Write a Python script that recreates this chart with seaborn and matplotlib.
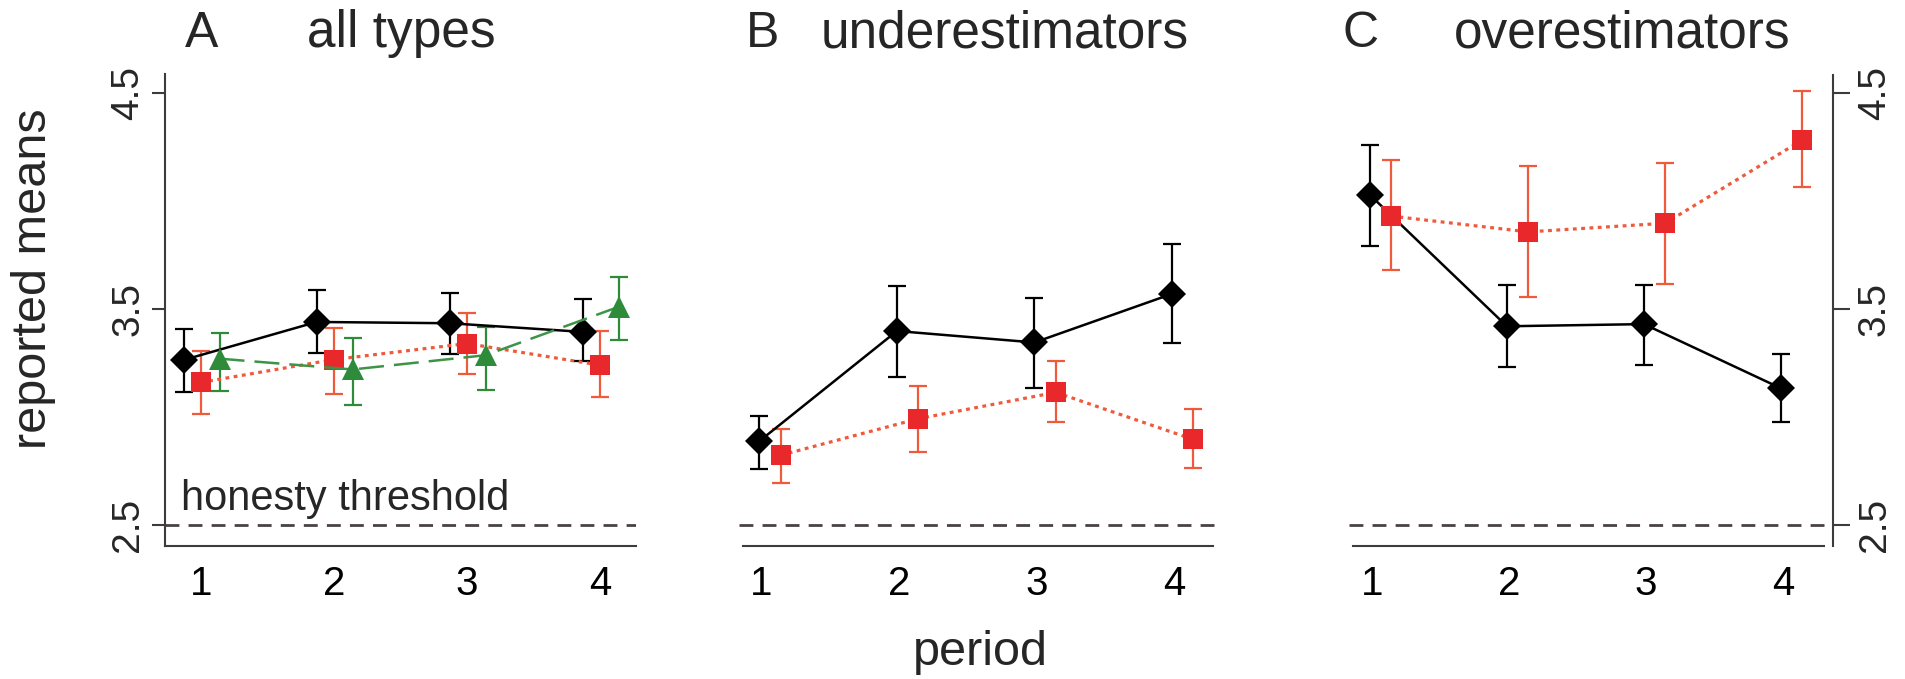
import matplotlib
matplotlib.use("Agg")
import matplotlib.pyplot as plt
import numpy as np
import pandas as pd
import seaborn as sns

# ---------------- data ----------------
periods = [1, 2, 3, 4]
y_ticks = [2.5, 3.5, 4.5]
y_tick_labels = ["2.5", "3.5", "4.5"]
x_tick_labels = ["1", "2", "3", "4"]
honesty_threshold = 2.5

panel_letters = ["A", "B", "C"]
panel_titles = ["all types", "underestimators", "overestimators"]
x_label = "period"
y_label = "reported means"
threshold_label = "honesty threshold"

# Panel A (all types)
a_black_mean = [3.264, 3.440, 3.434, 3.394]
a_black_low = [3.114, 3.296, 3.290, 3.258]
a_black_high = [3.406, 3.586, 3.574, 3.546]
a_red_mean = [3.160, 3.266, 3.340, 3.240]
a_red_low = [3.014, 3.108, 3.200, 3.094]
a_red_high = [3.306, 3.414, 3.480, 3.398]
a_green_mean = [3.270, 3.220, 3.286, 3.510]
a_green_low = [3.118, 3.054, 3.124, 3.356]
a_green_high = [3.390, 3.366, 3.416, 3.646]

# Panel B (underestimators)
b_black_mean = [2.888, 3.398, 3.345, 3.570]
b_black_low = [2.761, 3.187, 3.133, 3.341]
b_black_high = [3.004, 3.606, 3.550, 3.800]
b_red_mean = [2.823, 2.992, 3.114, 2.896]
b_red_low = [2.693, 2.837, 2.976, 2.763]
b_red_high = [2.944, 3.145, 3.257, 3.038]

# Panel C (overestimators)
c_black_mean = [4.028, 3.420, 3.430, 3.133]
c_black_low = [3.791, 3.230, 3.240, 2.976]
c_black_high = [4.257, 3.612, 3.612, 3.290]
c_red_mean = [3.930, 3.857, 3.897, 4.282]
c_red_low = [3.680, 3.554, 3.616, 4.066]
c_red_high = [4.190, 4.163, 4.177, 4.508]

# ---------------- styles ----------------
STYLES = {
    "black": dict(color="black", mfc="black", ecolor="black", marker="D", ms=14.5,
                  ls="-", lw=1.8),
    "red": dict(color="#f05a3c", mfc="#e8282b", ecolor="#ee5a3a", marker="s", ms=15,
                ls=(0, (1.2, 1.4)), lw=2.3),
    "green": dict(color="#3d9446", mfc="#2e8b3a", ecolor="#2e8b3a", marker="^", ms=16,
                  ls=(0, (10, 4)), lw=1.8),
}

panels = [
    [("black", -0.13, a_black_mean, a_black_low, a_black_high),
     ("red", 0.0, a_red_mean, a_red_low, a_red_high),
     ("green", 0.14, a_green_mean, a_green_low, a_green_high)],
    [("black", -0.015, b_black_mean, b_black_low, b_black_high),
     ("red", 0.14, b_red_mean, b_red_low, b_red_high)],
    [("black", -0.015, c_black_mean, c_black_low, c_black_high),
     ("red", 0.14, c_red_mean, c_red_low, c_red_high)],
]

sns.set_style("white")
plt.rcParams["font.family"] = ["Liberation Sans", "DejaVu Sans"]

W, H = 1905, 679
fig = plt.figure(figsize=(W / 100, H / 100), dpi=100)

spine_col = "#3c3c3c"
ylim = (2.405, 4.6)
ax_bottom = (H - 545.5) / H
ax_height = (545.5 - 71.4) / H

# axes: (left_px, right_px, xlim, bottom spine bounds)
layout = [
    (165.0, 636.0, (0.73, 4.27), (0.73, 4.27)),
    (739.4, 1215.3, (0.84, 4.30), (0.865, 4.28)),
    (1348.7, 1833.1, (0.83, 4.366), (0.86, 4.296)),
]

for i, (l, r, xl, bb) in enumerate(layout):
    ax = fig.add_axes([l / W, ax_bottom, (r - l) / W, ax_height])
    ax.set_xlim(*xl)
    ax.set_ylim(*ylim)

    # honesty threshold line
    ax.axhline(honesty_threshold, color="#4a4242", lw=2.0, dashes=(5, 3.3), zorder=1)

    for key, off, mean, low, high in panels[i]:
        st = STYLES[key]
        x = np.array(periods, dtype=float) + off
        mean_a = np.array(mean)
        err = [mean_a - np.array(low), np.array(high) - mean_a]
        ax.errorbar(x, mean_a, yerr=err, fmt="none", ecolor=st["ecolor"],
                    elinewidth=1.6, capsize=6.5, capthick=1.6, zorder=2)
        df = pd.DataFrame({"x": x, "y": mean_a})
        sns.lineplot(data=df, x="x", y="y", ax=ax, color=st["color"],
                     marker=st["marker"], markersize=st["ms"],
                     markerfacecolor=st["mfc"], markeredgecolor=st["mfc"],
                     markeredgewidth=0, linestyle=st["ls"], linewidth=st["lw"],
                     errorbar=None, sort=False, zorder=3)

    ax.set_xlabel("")
    ax.set_ylabel("")
    ax.set_xticks(periods)
    ax.set_xticklabels(x_tick_labels)
    ax.tick_params(axis="x", length=11, width=1.5, color=spine_col, labelsize=29,
                   pad=3, labelcolor="black")
    for s in ["top", "right", "left"]:
        ax.spines[s].set_visible(False)
    ax.spines["bottom"].set_visible(True)
    ax.spines["bottom"].set_bounds(*bb)
    ax.spines["bottom"].set_color(spine_col)
    ax.spines["bottom"].set_linewidth(1.5)

    if i == 0:
        ax.spines["left"].set_visible(True)
        ax.spines["left"].set_bounds(ylim[0], 4.59)
        ax.spines["left"].set_color(spine_col)
        ax.spines["left"].set_linewidth(1.5)
        ax.set_yticks(y_ticks)
        ax.set_yticklabels(y_tick_labels)
        ax.tick_params(axis="y", length=9.5, width=1.5, color=spine_col, labelsize=28,
                       pad=4, labelrotation=90, left=True)
        for lab in ax.get_yticklabels():
            lab.set_va("center")
        ax.text(0.85, 2.57, threshold_label, fontsize=30, ha="left", va="baseline")
    elif i == 1:
        ax.set_yticks([])
    else:
        ax.spines["right"].set_visible(True)
        ax.spines["right"].set_bounds(ylim[0], 4.585)
        ax.spines["right"].set_color(spine_col)
        ax.spines["right"].set_linewidth(1.5)
        ax.yaxis.tick_right()
        ax.set_yticks(y_ticks)
        ax.set_yticklabels(y_tick_labels)
        ax.tick_params(axis="y", length=12, width=1.5, color=spine_col, labelsize=28,
                       pad=5, labelrotation=90, right=True, left=False)
        for lab in ax.get_yticklabels():
            lab.set_va("center")

# titles
title_base = (H - 47) / H
letter_x = [202, 763, 1361]
title_x = [401, 1005, 1622]
for lx, tx, letter, title in zip(letter_x, title_x, panel_letters, panel_titles):
    fig.text(lx / W, title_base, letter, fontsize=36, ha="center", va="baseline")
    fig.text(tx / W, title_base, title, fontsize=37, ha="center", va="baseline")

fig.text(34 / W, (H - 279) / H, y_label, fontsize=35, rotation=90,
         ha="center", va="center")
fig.text(980 / W, (H - 665) / H, x_label, fontsize=35, ha="center", va="baseline")

fig.savefig("out.png", dpi=100, facecolor="white")
